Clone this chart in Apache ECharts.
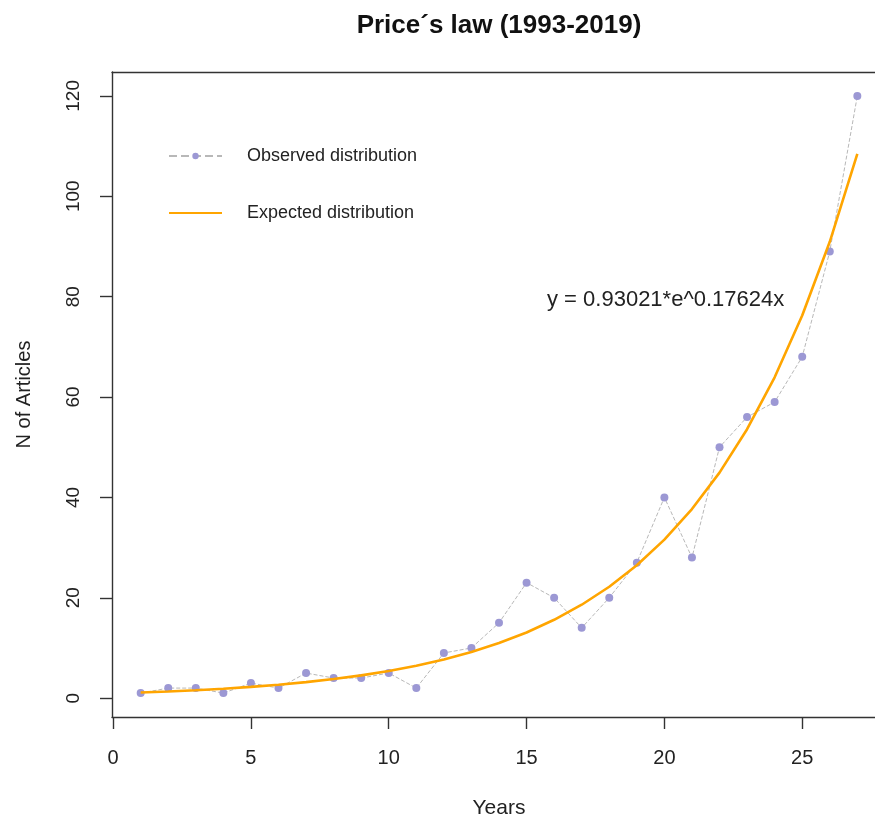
<!DOCTYPE html>
<html>
<head>
<meta charset="utf-8">
<script src="https://cdn.jsdelivr.net/npm/echarts@6/dist/echarts.min.js"></script>
<style>html,body{margin:0;padding:0;background:#fff;}#c{width:875px;height:819px;}</style>
</head>
<body>
<div id="c"></div>
<script>
var years = [1,2,3,4,5,6,7,8,9,10,11,12,13,14,15,16,17,18,19,20,21,22,23,24,25,26,27];
var observed = [1,2,2,1,3,2,5,4,4,5,2,9,10,15,23,20,14,20,27,40,28,50,56,59,68,89,120];
var expected = [1.11,1.32,1.58,1.88,2.25,2.68,3.19,3.81,4.54,5.42,6.47,7.71,9.20,10.97,13.08,15.61,18.61,22.20,26.48,31.58,37.67,44.93,53.59,63.92,76.24,90.93,108.46];
var xTicks = [0,5,10,15,20,25];
var yTicks = [0,20,40,60,80,100,120];
var titleText = 'Price\u00b4s law (1993-2019)';
var equationText = 'y = 0.93021*e^0.17624x';

var FONT = 'Liberation Sans, Arial, sans-serif';
var AX = '#333';
var chart = echarts.init(document.getElementById('c'), null, {renderer:'canvas'});
chart.setOption({
  animation: false,
  backgroundColor: '#fff',
  grid: {left: 112, top: 72, width: 774, height: 645, show: false, containLabel: false, outerBoundsMode: 'none'},
  xAxis: [{
    type: 'value', min: -0.04, max: 28.04, position: 'bottom',
    name: 'Years', nameLocation: 'middle', nameGap: 81,
    nameTextStyle: {fontFamily: FONT, fontSize: 21, color: '#222'},
    axisLine: {show: true, onZero: false, lineStyle: {color: AX, width: 1.4}},
    axisTick: {show: true, customValues: xTicks, length: 12, lineStyle: {color: AX, width: 1.4}},
    axisLabel: {show: true, customValues: xTicks, margin: 31, fontFamily: FONT, fontSize: 20, color: '#222'},
    splitLine: {show: false}
  }, {
    type: 'value', min: -0.04, max: 28.04, position: 'top',
    axisLine: {show: true, onZero: false, lineStyle: {color: AX, width: 1.4}},
    axisTick: {show: false}, axisLabel: {show: false}, splitLine: {show: false}
  }],
  yAxis: {
    type: 'value', min: -3.76, max: 124.76,
    name: 'N of Articles', nameLocation: 'middle', nameGap: 78, nameRotate: 90,
    nameTextStyle: {fontFamily: FONT, fontSize: 20, color: '#222'},
    axisLine: {show: true, onZero: false, lineStyle: {color: AX, width: 1.4}},
    axisTick: {show: true, customValues: yTicks, length: 12, lineStyle: {color: AX, width: 1.4}},
    axisLabel: {show: true, customValues: yTicks, rotate: 90, margin: 29, fontFamily: FONT, fontSize: 19, color: '#222'},
    splitLine: {show: false}
  },
  legend: {
    orient: 'vertical', left: 168, top: 147, padding: 0,
    itemWidth: 53, itemHeight: 8, itemGap: 39,
    textStyle: {fontFamily: FONT, fontSize: 18, color: '#222', padding: [0,0,0,20]},
    data: ['Observed distribution', {name: 'Expected distribution', itemStyle: {opacity: 0}}]
  },
  graphic: [
    {type: 'text', x: 499, y: 26, style: {text: titleText, fontFamily: FONT, fontSize: 26, fontWeight: 'bold', fill: '#111', align: 'center', verticalAlign: 'middle'}},
    {type: 'text', x: 547, y: 300, style: {text: equationText, fontFamily: FONT, fontSize: 22, fill: '#222', align: 'left', verticalAlign: 'middle'}}
  ],
  series: [
    {
      name: 'Observed distribution', type: 'line',
      data: years.map(function(x,i){return [x, observed[i]];}),
      symbol: 'circle', symbolSize: 8, showAllSymbol: true,
      itemStyle: {color: '#9c98d4'},
      lineStyle: {color: '#b8b8b8', width: 1, type: 'dashed'},
      z: 2
    },
    {
      name: 'Expected distribution', type: 'line',
      data: years.map(function(x,i){return [x, expected[i]];}),
      symbol: 'none', smooth: false,
      itemStyle: {color: '#FFA500'},
      lineStyle: {color: '#FFA500', width: 2.6},
      z: 3
    }
  ]
});
</script>
</body>
</html>
